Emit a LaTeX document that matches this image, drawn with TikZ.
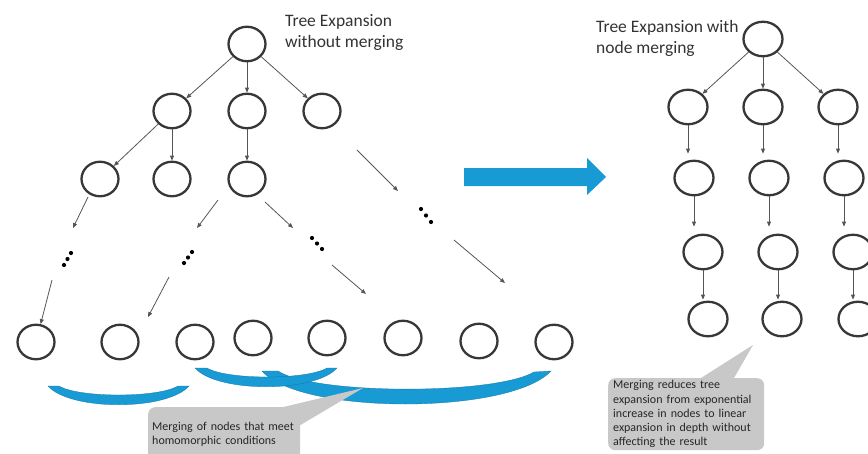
\documentclass[tikz,border=0pt]{standalone}
\usepackage{fontspec}
\setmainfont{Carlito}
\usetikzlibrary{shapes.geometric,arrows.meta}
\definecolor{mergeblue}{RGB}{24,155,213}
\definecolor{notegray}{RGB}{200,200,200}
\definecolor{linegray}{RGB}{85,85,85}
\definecolor{ringgray}{RGB}{55,55,55}

\begin{document}
\begin{tikzpicture}[x=1pt,y=-1pt,
  state/.style={ellipse,draw=ringgray,line width=2.3pt,minimum width=37pt,minimum height=34.5pt,inner sep=0pt},
  rstate/.style={state,minimum width=39pt},
  link/.style={draw=linegray,line width=0.8pt,-{Triangle[length=5pt,width=4pt]}},
  title/.style={anchor=west,align=left,inner sep=0pt,font=\fontsize{17.5}{21}\selectfont,text=black!80},
  note/.style={fill=notegray,rounded corners=7pt,anchor=north west,align=left,inner xsep=5pt,inner ysep=0pt,text=black!85},
  crescent/.style={fill=mergeblue,draw=mergeblue!75!black,line width=0.3pt}]
  \useasboundingbox (0,0) rectangle (868,453);

  % Tree without merging
  \node[state] (a0) at (247,44) {};
  \node[state] (a1) at (172,111) {};
  \node[state] (a2) at (247,111) {};
  \node[state] (a3) at (322,111) {};
  \node[state] (a11) at (100,179) {};
  \node[state] (a12) at (172,179) {};
  \node[state] (a21) at (247,179) {};

  \node[state] (b1) at (36,342) {};
  \node[state] (b2) at (120,342) {};
  \node[state] (b3) at (195,342) {};
  \node[state] (b4) at (253,338) {};
  \node[state] (b5) at (327,338) {};
  \node[state] (b6) at (403,338) {};
  \node[state] (b7) at (479,341) {};
  \node[state] (b8) at (554,342) {};

  \node[title] (t1) at (285,32) {Tree Expansion\\without merging};

  \draw[link] (a0) -- (a1);
  \draw[link] (a0) -- (a2);
  \draw[link] (a0) -- (a3);
  \draw[link] (a1) -- (a11);
  \draw[link] (a1) -- (a12);
  \draw[link] (a2) -- (a21);

  % Open branches
  \coordinate (f1s) at (88,197);  \coordinate (f1e) at (73,228);
  \coordinate (f2s) at (218,200); \coordinate (f2e) at (197,228);
  \coordinate (f3s) at (265,202); \coordinate (f3e) at (293,228);
  \coordinate (f4s) at (357,150); \coordinate (f4e) at (398,191);
  \coordinate (g1s) at (52,280);
  \coordinate (g2s) at (169,277); \coordinate (g2e) at (148,317);
  \coordinate (g3s) at (332,265); \coordinate (g3e) at (366,294);
  \coordinate (g4s) at (454,240); \coordinate (g4e) at (505,283);
  \draw[link] (f1s) -- (f1e);
  \draw[link] (f2s) -- (f2e);
  \draw[link] (f3s) -- (f3e);
  \draw[link] (f4s) -- (f4e);
  \draw[link] (g1s) -- (b1);
  \draw[link] (g2s) -- (g2e);
  \draw[link] (g3s) -- (g3e);
  \draw[link] (g4s) -- (g4e);

  % Dots
  \foreach \x/\y in {64/265,67.5/259,71/253, 184/263,188/257.5,192/252,
                     312/238,317/243.5,322/249, 421/209,426/215.5,431/222}
    \fill[black] (\x,\y) circle (2.1pt);

  % Merges
  \fill[crescent] (262,371) .. controls (300,415) and (510,415) .. (551,371)
    -- (534,372) .. controls (495,395) and (315,395) .. (278,371) -- cycle;
  \fill[crescent] (195,368) .. controls (217,393) and (315,393) .. (337,368)
    -- (327,368) .. controls (307,380) and (227,380) .. (207,368) -- cycle;
  \fill[crescent] (48,386) .. controls (70,411) and (167,411) .. (189,386)
    -- (178,386) .. controls (158,398) and (79,398) .. (59,386) -- cycle;

  % Big arrow
  \fill[mergeblue] (464,168) -- (587,168) -- (587,158) -- (606,177)
    -- (587,195) -- (587,186) -- (464,186) -- cycle;

  % Tree with merging
  \node[rstate] (r0) at (763,39) {};
  \node[rstate] (r1) at (688,107) {};
  \node[rstate] (r2) at (763,107) {};
  \node[rstate] (r3) at (838,107) {};
  \node[rstate] (r11) at (694,178) {};
  \node[rstate] (r21) at (769,178) {};
  \node[rstate] (r31) at (844,178) {};
  \node[rstate] (r12) at (703,252) {};
  \node[rstate] (r22) at (778,252) {};
  \node[rstate] (r32) at (853,252) {};
  \node[rstate] (r13) at (708,319) {};
  \node[rstate] (r23) at (782,319) {};
  \node[rstate] (r33) at (858,319) {};

  \node[title] (t2) at (596,38) {Tree Expansion with\\node merging};

  \draw[link] (r0) -- (r1);
  \draw[link] (r0) -- (r2);
  \draw[link] (r0) -- (r3);
  \foreach \c in {1,2,3} {
    \draw[link,shorten >=6pt] (r\c.south) -- (r\c.south |- r\c1.north);
    \draw[link,shorten >=7pt] (r\c1.south) -- (r\c1.south |- r\c2.north);
    \draw[link,shorten >=1pt] (r\c2.south) -- (r\c2.south |- r\c3.north);
  }

  % Notes
  \node[note,text width=144pt,inner xsep=4pt,minimum height=54pt,font=\fontsize{12}{13.3}\selectfont] (n1) at (148,407)
    {Merging of nodes that meet\\homomorphic conditions};
  \coordinate (n1tip) at (363,388);
  \fill[notegray] ([xshift=-17pt]n1.north east) -- (n1tip) -- ([yshift=-18pt]n1.north east) -- cycle;

  \node[note,text width=146pt,inner xsep=5pt,minimum height=72pt,font=\fontsize{12}{14.3}\selectfont] (n2) at (608,378)
    {Merging reduces tree\\expansion from exponential\\increase in nodes to linear\\expansion in depth without\\affecting the result};
  \coordinate (n2tip) at (753,345);
  \fill[notegray] ([xshift=93pt]n2.north west) -- (n2tip) -- ([xshift=126pt]n2.north west) -- cycle;
\end{tikzpicture}
\end{document}
